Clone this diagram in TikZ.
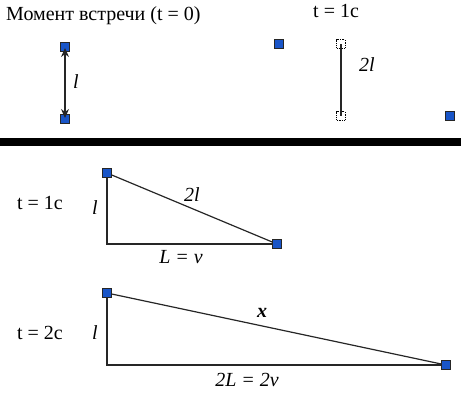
\documentclass[tikz,border=0pt]{standalone}
\usepackage{fontspec}
\setmainfont{Liberation Serif}
\usetikzlibrary{arrows.meta}
\definecolor{sqblue}{RGB}{25,85,200}
\begin{document}
\begin{tikzpicture}[x=1pt,y=-1pt,
  txt/.style={font=\fontsize{20}{23}\selectfont, inner sep=0pt},
  lab/.style={font=\fontsize{20}{23}\selectfont\itshape, inner sep=0pt},
  pt/.style={draw=black!85, fill=sqblue, minimum size=8.5pt, inner sep=0pt, line width=0.8pt},
  ghost/.style={draw=black, densely dotted, fill=white, minimum size=8.5pt, inner sep=0pt, line width=0.8pt},
  ln/.style={line width=1.2pt, black!85}]
\useasboundingbox (0,0) rectangle (461,400);
% title row
\node[txt, anchor=base west] (title) at (6,20) {Момент встречи (t = 0)};
\node[txt, anchor=base west] (t1top) at (313,17) {t = 1c};
% left pair
\node[pt] (a1) at (65,47) {};
\node[pt] (a2) at (65,119) {};
\draw[ln, shorten <=1pt, shorten >=1pt, {Stealth[length=9pt,width=8pt]}-{Stealth[length=9pt,width=8pt]}] (a1.center) -- (a2.center);
\node[lab] (la) at (76,82) {l};
% right part
\node[pt] (b1) at (279,44) {};
\node[ghost] (g1) at (341,44) {};
\node[ghost] (g2) at (341,116) {};
\draw[ln] (g1.center) -- (g2.center);
\node[lab] (lb) at (367,65) {2l};
\node[pt] (b2) at (450,116) {};
% separator bar
\fill (0,138) rectangle (461,146);
% triangle 1
\node[txt] (t1) at (40,203) {t = 1c};
\coordinate (c1) at (107,244);
\node[pt] (p1) at (107,173) {};
\node[pt] (q1) at (277,244) {};
\draw[ln] (p1.center) -- (c1) -- (q1.center);
\draw[ln] (p1.center) -- (q1.center);
\node[pt] at (107,173) {};
\node[pt] at (277,244) {};
\node[lab] (l1) at (95,208) {l};
\node[lab] (h1) at (192,195) {2l};
\node[lab] (b1l) at (181,257) {L = v};
% triangle 2
\node[txt] (t2) at (40,333) {t = 2c};
\coordinate (c2) at (107,365);
\node[pt] (p2) at (107,293) {};
\node[pt] (q2) at (446,365) {};
\draw[ln] (p2.center) -- (c2) -- (q2.center);
\draw[ln] (p2.center) -- (q2.center);
\node[pt] at (107,293) {};
\node[pt] at (446,365) {};
\node[lab] (l2) at (95,333) {l};
\node[lab, font=\fontsize{20}{23}\selectfont\bfseries\itshape] (h2) at (262,313) {x};
\node[lab] (b2l) at (247,380) {2L = 2v};
\end{tikzpicture}
\end{document}
